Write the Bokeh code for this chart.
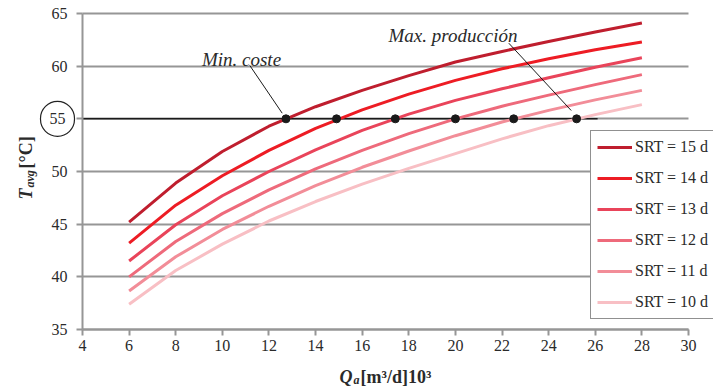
import math
from bokeh.plotting import figure
from bokeh.models import Range1d, Label, Legend, LegendItem, FixedTicker
from bokeh.embed import file_html
from bokeh.resources import INLINE

# ---- data ----
q_values = [6, 8, 10, 12, 14, 16, 18, 20, 22, 24, 26, 28]
srt15 = [45.2, 48.9, 51.9, 54.3, 56.15, 57.7, 59.1, 60.4, 61.4, 62.35, 63.25, 64.1]
srt14 = [43.2, 46.8, 49.6, 52.0, 54.1, 55.85, 57.35, 58.65, 59.75, 60.7, 61.55, 62.3]
srt13 = [41.5, 44.95, 47.7, 50.0, 52.05, 53.9, 55.45, 56.75, 57.85, 58.9, 59.9, 60.8]
srt12 = [40.0, 43.35, 46.0, 48.25, 50.25, 52.0, 53.6, 55.0, 56.2, 57.25, 58.25, 59.2]
srt11 = [38.65, 41.9, 44.5, 46.7, 48.65, 50.4, 51.95, 53.4, 54.7, 55.8, 56.8, 57.7]
srt10 = [37.4, 40.6, 43.1, 45.3, 47.15, 48.8, 50.3, 51.7, 53.1, 54.35, 55.4, 56.35]
series_names = ["SRT = 15 d", "SRT = 14 d", "SRT = 13 d", "SRT = 12 d", "SRT = 11 d", "SRT = 10 d"]
series_values = [srt15, srt14, srt13, srt12, srt11, srt10]
series_colors = ["#BF1E2E", "#ED1C24", "#E9445A", "#EE6A7B", "#F28D98", "#F8BFC4"]

ref_temp = 55
ref_x = [4, 26.1]
cross_x = [12.73, 14.9, 17.42, 20.0, 22.5, 25.2]
cross_y = [55, 55, 55, 55, 55, 55]

x_ticks = [4, 6, 8, 10, 12, 14, 16, 18, 20, 22, 24, 26, 28, 30]
y_ticks = [35, 40, 45, 50, 55, 60, 65]
X0, X1, Y0, Y1 = 4, 30, 35, 65

# ---- layout constants (pixel position of the axes box in the canvas) ----
W, H = 713, 389
L, R, T, B = 82, 25, 13, 60
SX = (W - L - R) / (X1 - X0)
SY = (H - T - B) / (Y1 - Y0)

def px_x(px):
    return X0 + (px - L) / SX

def px_y(py):
    return Y1 - (py - T) / SY

SERIF = "Liberation Serif"
GRID = "#969696"
INK = "#2a2a2a"

p = figure(width=W, height=H,
           x_range=Range1d(px_x(0), px_x(W)), y_range=Range1d(px_y(H), px_y(0)),
           output_backend="svg", toolbar_location=None,
           min_border_left=0, min_border_right=0, min_border_top=0, min_border_bottom=0)
p.outline_line_color = None
p.background_fill_color = "white"
p.border_fill_color = "white"

p.xgrid.visible = False
p.ygrid.ticker = FixedTicker(ticks=y_ticks)
p.ygrid.bounds = (Y0, Y1)
p.ygrid.cross_bounds = (X0, X1)
p.ygrid.grid_line_color = GRID
p.ygrid.grid_line_width = 2

p.xaxis.ticker = FixedTicker(ticks=x_ticks)
p.yaxis.ticker = FixedTicker(ticks=y_ticks)
p.xaxis.fixed_location = Y0
p.yaxis.fixed_location = X0
p.xaxis.bounds = (X0, X1)
p.yaxis.bounds = (Y0, Y1)
for ax in (p.xaxis, p.yaxis):
    ax.axis_line_color = GRID
    ax.axis_line_width = 2
    ax.major_tick_line_color = GRID
    ax.major_tick_line_width = 2
    ax.major_tick_in = 0
    ax.major_tick_out = 6
    ax.minor_tick_line_color = None
    ax.major_label_text_font = SERIF
    ax.major_label_text_font_size = "16px"
    ax.major_label_text_color = INK
p.yaxis.major_label_standoff = 9
p.xaxis.major_label_standoff = 4
p.yaxis.major_label_overrides = {55: ""}

# reference line at 55
p.line(ref_x, [ref_temp, ref_temp], line_color="#1a1a1a", line_width=1.5)

items = []
for name, vals, col in zip(series_names, series_values, series_colors):
    r = p.line(q_values, vals, line_color=col, line_width=3)
    items.append(LegendItem(label=name, renderers=[r]))

p.scatter(cross_x, cross_y, size=8, color="#1a1a1a")

# annotation leaders
p.segment(x0=[px_x(249.3), px_x(508.3)], y0=[px_y(65), px_y(42.7)],
          x1=[px_x(281.7), px_x(570.7)], y1=[px_y(112.7), px_y(110)],
          line_color="#1a1a1a", line_width=1)

p.add_layout(Label(x=px_x(241), y=px_y(59), text="Min. coste", text_align="center",
                   text_baseline="alphabetic", text_font=SERIF, text_font_style="italic",
                   text_font_size="19px", text_color=INK))
p.add_layout(Label(x=px_x(452.5), y=px_y(35), text="Max. producción", text_align="center",
                   text_baseline="alphabetic", text_font=SERIF, text_font_style="italic",
                   text_font_size="19px", text_color=INK))

# circled 55 tick label
p.add_layout(Label(x=px_x(57), y=55, text="55", text_align="center", text_baseline="middle",
                   text_font=SERIF, text_font_size="16px", text_color=INK,
                   border_line_color="#222222", border_line_width=1.2,
                   border_radius=17, padding=dict(x=9, y=12)))

# x axis title: Q_a[m3/d]10^3
p.add_layout(Label(x=px_x(339), y=px_y(376), text="Q", text_align="left",
                   text_baseline="alphabetic", text_font=SERIF, text_font_style="bold italic",
                   text_font_size="18px", text_color=INK))
p.add_layout(Label(x=px_x(353), y=px_y(379), text="a", text_align="left",
                   text_baseline="alphabetic", text_font=SERIF, text_font_style="bold italic",
                   text_font_size="12px", text_color=INK))
p.add_layout(Label(x=px_x(360), y=px_y(376), text="[m³/d]10³", text_align="left",
                   text_baseline="alphabetic", text_font=SERIF, text_font_style="bold",
                   text_font_size="18px", text_color=INK))

# y axis title: T_avg[°C]
ang = math.pi / 2
p.add_layout(Label(x=px_x(25.5), y=px_y(199), text="T", angle=ang, text_align="left",
                   text_baseline="alphabetic", text_font=SERIF, text_font_style="bold italic",
                   text_font_size="18px", text_color=INK))
p.add_layout(Label(x=px_x(29.5), y=px_y(187), text="avg", angle=ang, text_align="left",
                   text_baseline="alphabetic", text_font=SERIF, text_font_style="bold italic",
                   text_font_size="12px", text_color=INK))
p.add_layout(Label(x=px_x(25.5), y=px_y(168), text="[°C]", angle=ang, text_align="left",
                   text_baseline="alphabetic", text_font=SERIF, text_font_style="bold",
                   text_font_size="18px", text_color=INK))

LEG_LEFT, LEG_BOTTOM = 590, 319
legend = Legend(items=items, location=(LEG_LEFT, H - LEG_BOTTOM),
                label_text_font=SERIF, label_text_font_size="16px", label_text_color=INK,
                glyph_width=35, glyph_height=20, label_height=20, spacing=11, padding=6,
                label_standoff=3, border_line_color="#222222", border_line_width=1.2,
                background_fill_color="white", background_fill_alpha=1.0, margin=0)
p.add_layout(legend)

open("out.html", "w").write(file_html(p, INLINE))
